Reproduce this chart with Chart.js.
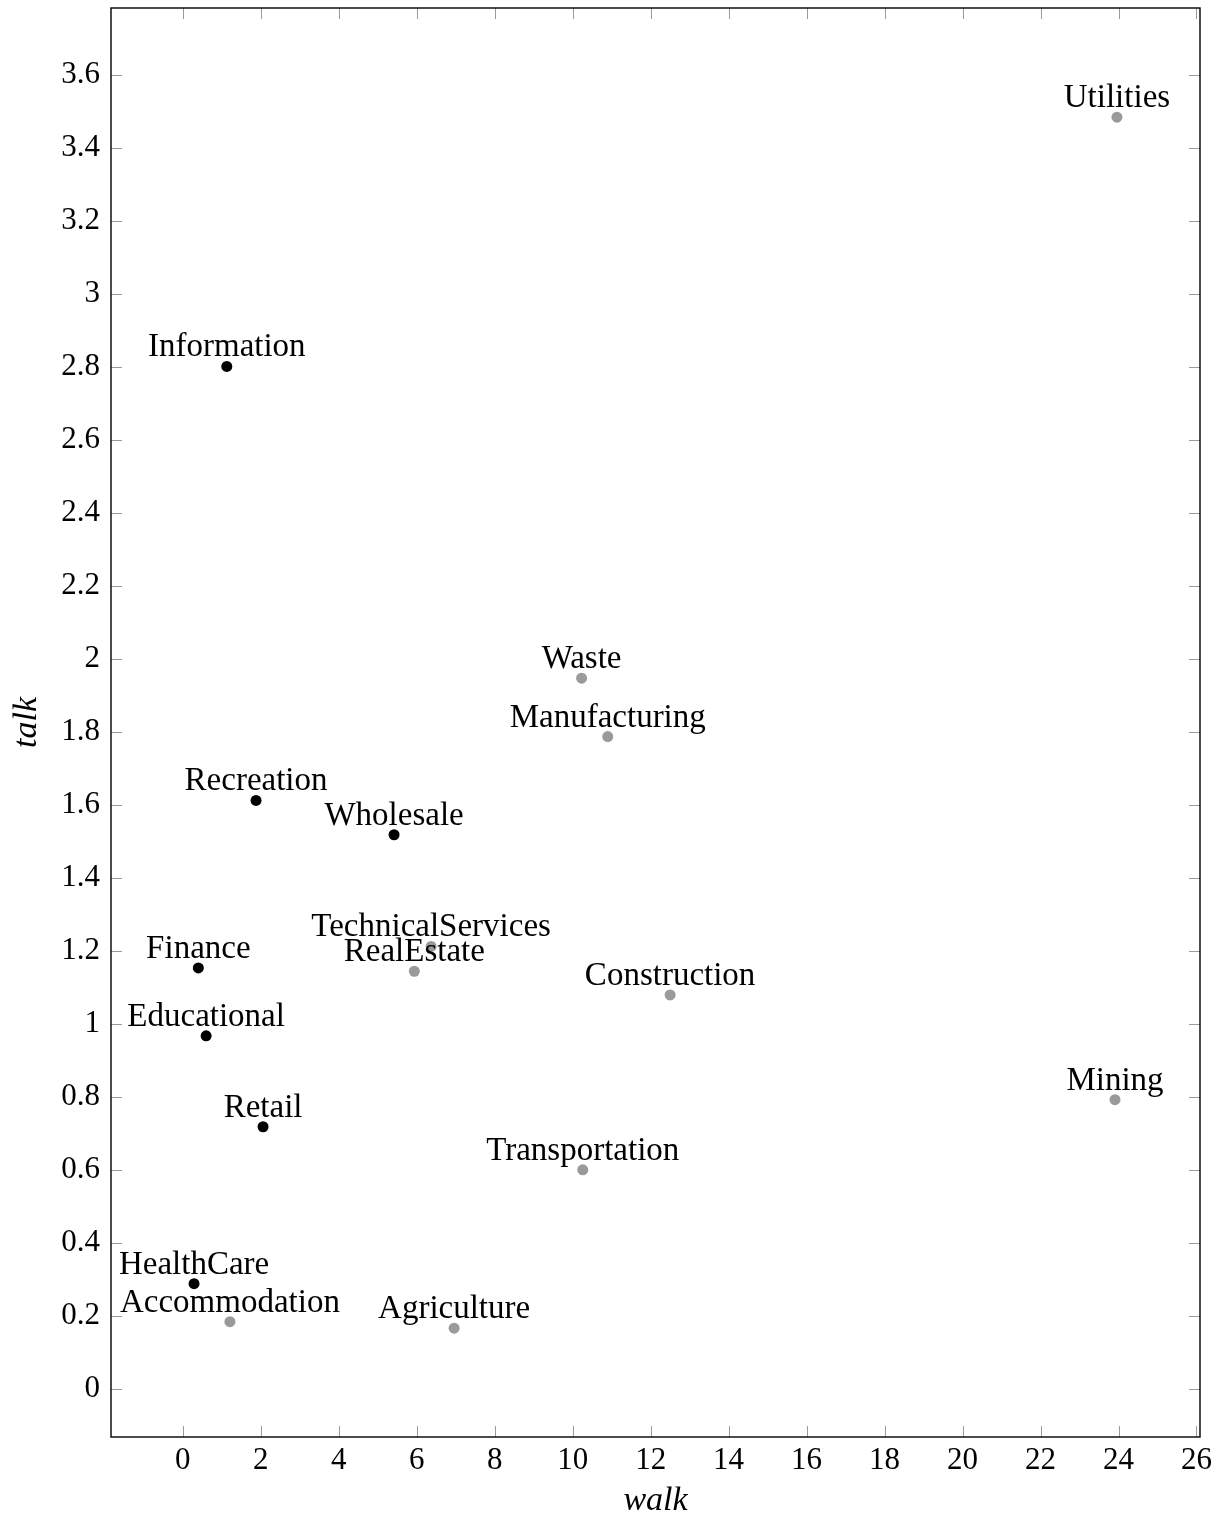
<!DOCTYPE html>
<html>
<head>
<meta charset="utf-8">
<title>walk vs talk by industry</title>
<script src="https://cdn.jsdelivr.net/npm/chart.js@4/dist/chart.umd.min.js"></script>
<style>
  html, body { margin: 0; padding: 0; background: #ffffff; }
  #wrap { width: 1222px; height: 1521px; position: relative; }
</style>
</head>
<body>
<div id="wrap"><canvas id="chart"></canvas></div>
<script>
// Industries in the first group (black markers)
const groupANames = ['Information', 'Recreation', 'Wholesale', 'Finance', 'Educational', 'Retail', 'HealthCare'];
const groupAWalk  = [1.13, 1.88, 5.42, 0.40, 0.60, 2.06, 0.29];
const groupATalk  = [2.802, 1.613, 1.519, 1.154, 0.968, 0.719, 0.289];

// Industries in the second group (grey markers)
const groupBNames = ['Utilities', 'Waste', 'Manufacturing', 'TechnicalServices', 'RealEstate', 'Construction',
                     'Mining', 'Transportation', 'Accommodation', 'Agriculture'];
const groupBWalk  = [23.96, 10.23, 10.90, 6.37, 5.94, 12.50, 23.91, 10.26, 1.21, 6.96];
const groupBTalk  = [3.485, 1.948, 1.788, 1.213, 1.145, 1.080, 0.793, 0.601, 0.185, 0.167];

// Axis ranges and tick steps
const walkRange = [-1.84, 26.09];
const talkRange = [-0.131, 3.784];
const walkStep = 2;
const talkStep = 0.2;

const SERIF = '"Liberation Serif", "Times New Roman", serif';

function toPoints(xs, ys) {
  return xs.map((x, i) => ({ x: x, y: ys[i] }));
}

// Tick text without trailing zeros: 1, 1.2, 3 ...
function trimNumber(v) {
  return String(Number(Number(v).toFixed(2)));
}

// Inward ticks on all four sides, a closed frame, and the name above each marker
const framePlugin = {
  id: 'frameAndNames',
  afterDatasetsDraw(chart) {
    const ctx = chart.ctx;
    const names = [groupANames, groupBNames];
    ctx.save();
    ctx.font = '33px ' + SERIF;
    ctx.fillStyle = '#000000';
    ctx.textAlign = 'center';
    ctx.textBaseline = 'alphabetic';
    chart.data.datasets.forEach((ds, di) => {
      const meta = chart.getDatasetMeta(di);
      meta.data.forEach((pt, i) => {
        ctx.fillText(names[di][i], pt.x, pt.y - 10);
      });
    });
    ctx.restore();
  },
  afterDraw(chart) {
    const ctx = chart.ctx;
    const a = chart.chartArea;
    const xs = chart.scales.x;
    const ys = chart.scales.y;
    const len = 11;
    ctx.save();
    ctx.strokeStyle = '#9a9a9a';
    ctx.lineWidth = 1;
    ctx.beginPath();
    xs.ticks.forEach(t => {
      const px = Math.round(xs.getPixelForValue(t.value)) + 0.5;
      ctx.moveTo(px, a.bottom); ctx.lineTo(px, a.bottom - len);
      ctx.moveTo(px, a.top); ctx.lineTo(px, a.top + len);
    });
    ys.ticks.forEach(t => {
      const py = Math.round(ys.getPixelForValue(t.value)) + 0.5;
      ctx.moveTo(a.left, py); ctx.lineTo(a.left + len, py);
      ctx.moveTo(a.right, py); ctx.lineTo(a.right - len, py);
    });
    ctx.stroke();
    ctx.strokeStyle = '#000000';
    ctx.lineWidth = 1.4;
    ctx.strokeRect(a.left, a.top, a.right - a.left, a.bottom - a.top);
    ctx.restore();
  }
};

new Chart(document.getElementById('chart'), {
  type: 'scatter',
  data: {
    datasets: [
      {
        label: 'group A',
        data: toPoints(groupAWalk, groupATalk),
        backgroundColor: '#000000',
        borderWidth: 0,
        pointRadius: 5.5,
        pointHoverRadius: 5.5
      },
      {
        label: 'group B',
        data: toPoints(groupBWalk, groupBTalk),
        backgroundColor: '#9a9a9a',
        borderWidth: 0,
        pointRadius: 5.5,
        pointHoverRadius: 5.5
      }
    ]
  },
  options: {
    responsive: true,
    maintainAspectRatio: false,
    animation: false,
    events: [],
    layout: { padding: { top: 8, right: 22, left: 0, bottom: 0 } },
    plugins: {
      legend: { display: false },
      tooltip: { enabled: false }
    },
    scales: {
      x: {
        type: 'linear',
        position: 'bottom',
        min: walkRange[0],
        max: walkRange[1],
        grid: { display: false, drawTicks: false },
        border: { display: false },
        ticks: {
          stepSize: walkStep,
          includeBounds: false,
          maxRotation: 0,
          autoSkip: false,
          padding: 5,
          color: '#000000',
          font: { family: SERIF, size: 31 },
          callback: (v) => trimNumber(v)
        },
        title: {
          display: true,
          text: 'walk',
          color: '#000000',
          padding: { top: 0, bottom: 2.5 },
          font: { family: SERIF, size: 34, style: 'italic', lineHeight: 1 }
        },
        afterFit(scale) {
          scale.height = 84;
          scale.paddingLeft = 0;
          scale.paddingRight = 0;
        }
      },
      y: {
        type: 'linear',
        position: 'left',
        min: talkRange[0],
        max: talkRange[1],
        grid: { display: false, drawTicks: false },
        border: { display: false },
        ticks: {
          stepSize: talkStep,
          includeBounds: false,
          autoSkip: false,
          padding: 11,
          color: '#000000',
          font: { family: SERIF, size: 31 },
          callback: (v) => trimNumber(v)
        },
        title: {
          display: true,
          text: 'talk',
          color: '#000000',
          padding: { top: 10.5, bottom: 0 },
          font: { family: SERIF, size: 34, style: 'italic', lineHeight: 1 }
        },
        afterFit(scale) {
          scale.width = 111;
          scale.paddingTop = 0;
          scale.paddingBottom = 0;
        }
      }
    }
  },
  plugins: [framePlugin]
});
</script>
</body>
</html>
